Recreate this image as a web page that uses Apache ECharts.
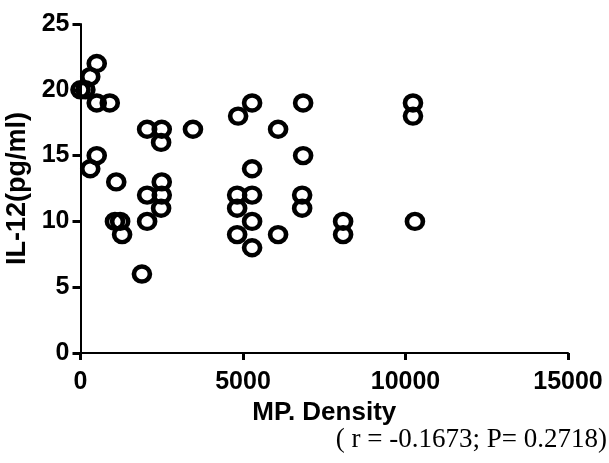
<!DOCTYPE html>
<html>
<head>
<meta charset="utf-8">
<script src="https://cdn.jsdelivr.net/npm/echarts@6/dist/echarts.min.js"></script>
<style>html,body{margin:0;padding:0;background:#fff}#c{width:609px;height:463px}</style>
</head>
<body>
<div id="c"></div>
<script>
var mpDensity = [0, 150, 300, 500, 500, 900, 500, 300, 1100, 1060, 1220, 1280, 1890,
  2050, 2050, 2500, 2500, 2480, 2050, 2500, 2480, 3460,
  4850, 5280, 6080, 6850, 6850, 5280, 4820, 5280, 4820, 6820, 6820, 5280, 4820, 5280, 6080,
  8080, 8080, 10230, 10230, 10290];
var il12 = [20, 20, 21, 22, 19, 19, 15, 14, 13, 10, 10, 9, 6,
  12, 10, 13, 12, 11, 17, 17, 16, 17,
  18, 19, 17, 19, 15, 14, 12, 12, 11, 12, 11, 10, 9, 8, 9,
  10, 9, 19, 18, 10];
var xTicks = [0, 5000, 10000, 15000];
var yTicks = [0, 5, 10, 15, 20, 25];
var xName = 'MP. Density';
var yName = 'IL-12(pg/ml)';
var note = '( r = -0.1673; P= 0.2718)';

var pts = mpDensity.map(function (x, i) { return [x, il12[i]]; });
var chart = echarts.init(document.getElementById('c'));
var axFont = {fontFamily: 'Liberation Sans', fontWeight: 'bold', color: '#000'};
chart.setOption({
  animation: false,
  grid: {left: 80.5, right: 41, top: 24, bottom: 110, containLabel: false, outerBoundsMode: 'none'},
  xAxis: {
    type: 'value', min: xTicks[0], max: xTicks[xTicks.length - 1], interval: xTicks[1] - xTicks[0],
    name: xName, nameLocation: 'middle', nameGap: 45,
    nameTextStyle: Object.assign({fontSize: 26}, axFont),
    axisLine: {show: true, lineStyle: {color: '#000', width: 2}},
    axisTick: {show: true, length: 7, lineStyle: {color: '#000', width: 3}},
    axisLabel: Object.assign({fontSize: 25, margin: 17, formatter: function (v) { return String(v); }}, axFont),
    splitLine: {show: false}
  },
  yAxis: {
    type: 'value', min: yTicks[0], max: yTicks[yTicks.length - 1], interval: yTicks[1] - yTicks[0],
    name: yName, nameLocation: 'middle', nameGap: 43, nameRotate: 90,
    nameTextStyle: Object.assign({fontSize: 27}, axFont),
    axisLine: {show: true, lineStyle: {color: '#000', width: 2}},
    axisTick: {show: true, length: 8, lineStyle: {color: '#000', width: 3}},
    axisLabel: Object.assign({fontSize: 25, margin: 11, formatter: function (v) { return String(v); }}, axFont),
    splitLine: {show: false}
  },
  graphic: [{
    type: 'text', right: 2, top: 426,
    style: {text: note, font: '27px "Liberation Serif"', fill: '#000'}
  }],
  series: [{
    type: 'scatter', data: pts, symbol: 'circle', symbolSize: [16, 15],
    itemStyle: {color: 'rgba(0,0,0,0)', borderColor: '#000', borderWidth: 4.5, opacity: 1}
  }]
});
</script>
</body>
</html>
